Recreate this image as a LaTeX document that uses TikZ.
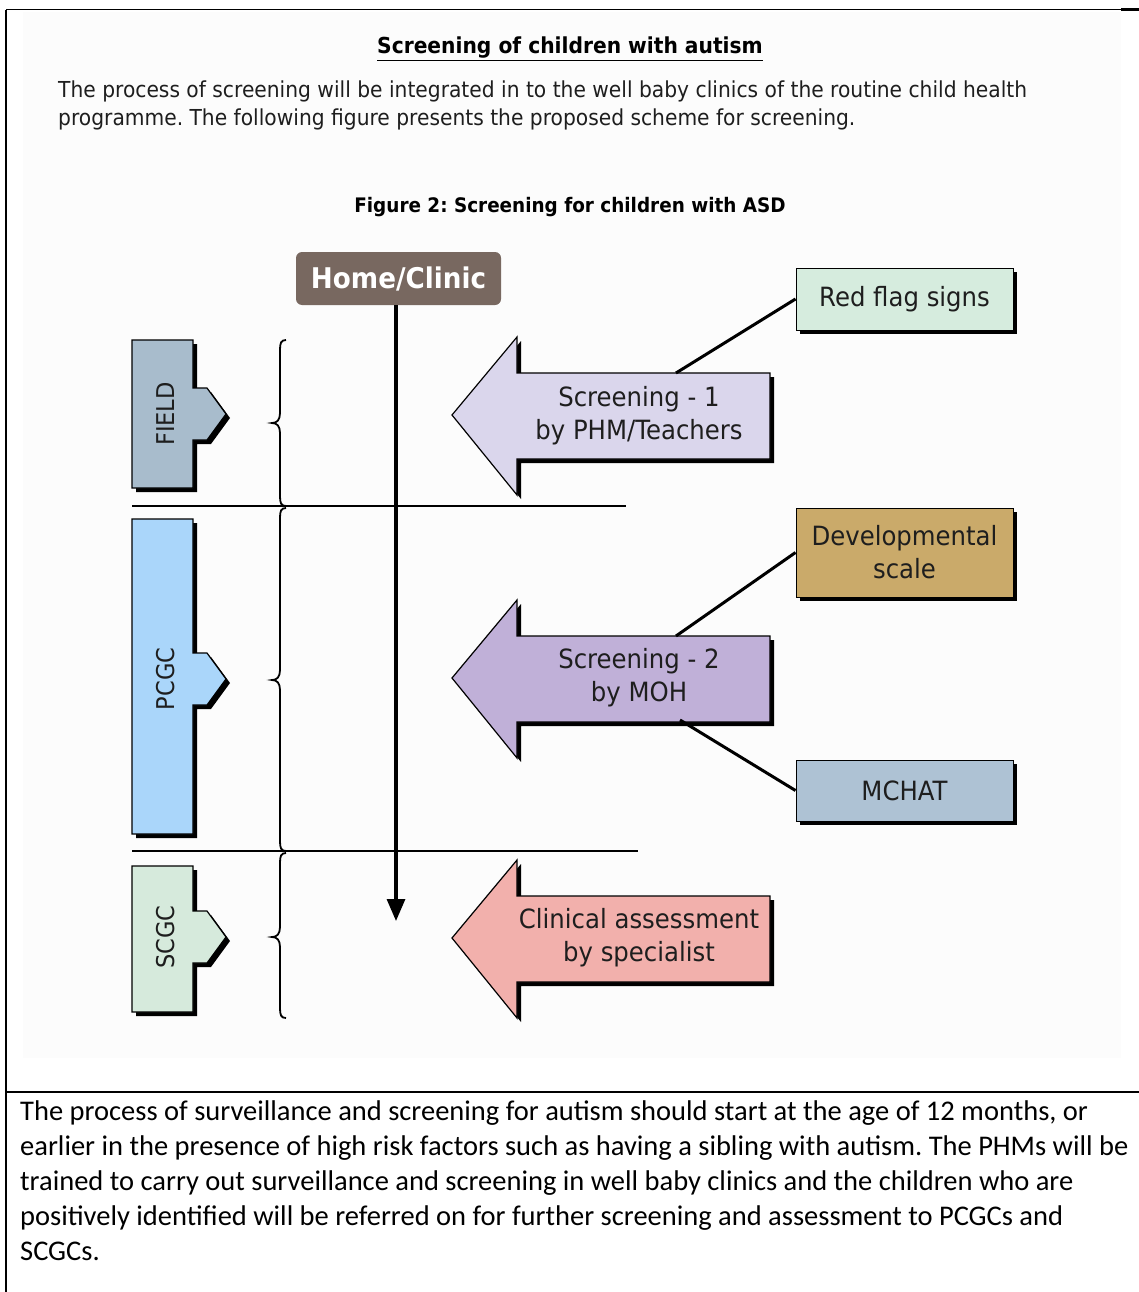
\documentclass[tikz,border=0pt]{standalone}
\usepackage{fontspec}
\usetikzlibrary{arrows.meta,shadows}
\newfontfamily\tah{DejaVu Sans}[FakeStretch=0.92]
\newfontfamily\calfont{Carlito}
\frenchspacing
\definecolor{pagegrey}{RGB}{252,252,252}
\definecolor{inkc}{RGB}{30,30,30}
\definecolor{homec}{RGB}{120,104,96}
\definecolor{fieldc}{RGB}{168,188,204}
\definecolor{pcgcc}{RGB}{170,214,250}
\definecolor{scgcc}{RGB}{214,234,220}
\definecolor{scrAc}{RGB}{218,214,236}
\definecolor{scrBc}{RGB}{192,176,216}
\definecolor{clinc}{RGB}{242,176,172}
\definecolor{redc}{RGB}{214,236,222}
\definecolor{devc}{RGB}{202,170,106}
\definecolor{mchatc}{RGB}{174,194,212}
\tikzset{
  toolbox/.style={draw=black, line width=1pt, minimum width=217pt, align=center,
    text=inkc, font=\tah\fontsize{26.5}{33}\selectfont,
    drop shadow={shadow xshift=4pt, shadow yshift=-4pt, opacity=1, fill=black}},
  tabtext/.style={rotate=90, text=inkc, font=\tah\fontsize{24.5}{26}\selectfont},
  arrtext/.style={align=center, text=inkc, font=\tah\fontsize{26.5}{33}\selectfont},
  linkline/.style={line width=3pt},
  seprule/.style={line width=1.8pt},
  bracepath/.style={line width=1.8pt},
  outlined/.style={draw=black, line width=1.2pt}
}
\begin{document}
\frenchspacing
\begin{tikzpicture}[x=1pt,y=-1pt]
\useasboundingbox (0,0) rectangle (1139,1292);
% page background and frame
\fill[pagegrey] (23,12) rectangle (1121,1058);
\draw[line width=2pt] (6,10) -- (6,1292);
\draw[line width=1pt] (6,10) -- (1121,10);
\draw[line width=3pt] (1121,10) -- (1139,10);
\draw[line width=2.4pt] (6,1092) -- (1139,1092);

% heading and introduction
\node[anchor=base, font=\tah\bfseries\fontsize{22}{26}\selectfont] (title) at (570,54)
  {\underline{Screening of children with autism}};
\node[anchor=base west, inner sep=0pt, font=\tah\fontsize{22}{28}\selectfont, text=inkc] (intro1) at (58,98)
  {The process of screening will be integrated in to the well baby clinics of the routine child health};
\node[anchor=base west, inner sep=0pt, font=\tah\fontsize{22}{28}\selectfont, text=inkc] (intro2) at (58,126)
  {programme. The following figure presents the proposed scheme for screening.};
\node[anchor=base, font=\tah\bfseries\fontsize{20}{24}\selectfont] (figcap) at (570,212)
  {Figure 2: Screening for children with ASD};

% level tabs on the left
\foreach \top/\bot/\mid/\col/\nm/\lbl in {340/488/414/fieldc/field/FIELD,
                                         519/834/679/pcgcc/pcgc/PCGC,
                                         866/1012/937/scgcc/scgc/SCGC}{
  \fill[black] (136,\top+4) -- (197,\top+4) -- (197,\mid-22) -- (211,\mid-22)
      -- (230,\mid+4) -- (211,\mid+30) -- (197,\mid+30) -- (197,\bot+4) -- (136,\bot+4) -- cycle;
  \draw[outlined, fill=\col] (132,\top) -- (193,\top) -- (193,\mid-26) -- (207,\mid-26)
      -- (226,\mid) -- (207,\mid+26) -- (193,\mid+26) -- (193,\bot) -- (132,\bot) -- cycle;
  \node[tabtext] (\nm) at (166,\mid) {\lbl};
}

% braces
\draw[bracepath] (286,340) .. controls (281,340) and (280,343) .. (280,350) -- (280,413)
  .. controls (280,420) and (277,423) .. (272,423) .. controls (277,423) and (280,426) .. (280,433)
  -- (280,496) .. controls (280,503) and (281,506) .. (286,506);
\draw[bracepath] (286,508) .. controls (281,508) and (280,511) .. (280,518) -- (280,670)
  .. controls (280,677) and (277,680) .. (272,680) .. controls (277,680) and (280,683) .. (280,690)
  -- (280,841) .. controls (280,848) and (281,851) .. (286,851);
\draw[bracepath] (286,853) .. controls (281,853) and (280,856) .. (280,863) -- (280,927)
  .. controls (280,934) and (277,937) .. (272,937) .. controls (277,937) and (280,940) .. (280,947)
  -- (280,1008) .. controls (280,1015) and (281,1018) .. (286,1018);

% separators
\draw[seprule] (132,506) -- (626,506);
\draw[seprule] (132,851) -- (638,851);

% home / clinic and flow line
\node[fill=homec, rounded corners=6pt, minimum width=205pt, minimum height=53pt,
      text=white, font=\tah\bfseries\fontsize{28.5}{30}\selectfont] (home) at (398.5,278.5) {Home/Clinic};
\coordinate (flowend) at (396,921);
\draw[line width=3.2pt, -{Triangle[length=22pt,width=18pt]}] (396,305) -- (flowend);

% block arrows
\foreach \y/\col in {415/scrAc, 678/scrBc, 938/clinc}{
  \fill[black] (456,\y+4) -- ++(65,-78) -- ++(0,36) -- ++(253,0) -- ++(0,86)
      -- ++(-253,0) -- ++(0,36) -- cycle;
  \draw[outlined, fill=\col] (452,\y) -- ++(65,-78) -- ++(0,36) -- ++(253,0) -- ++(0,86)
      -- ++(-253,0) -- ++(0,36) -- cycle;
}
\coordinate (scrAtop) at (676,373);
\coordinate (scrBtop) at (676,636);
\coordinate (scrBbot) at (680,720);
\node[arrtext] (scr1) at (639,416) {Screening - 1\\by PHM/Teachers};
\node[arrtext] (scr2) at (639,678) {Screening - 2\\by MOH};
\node[arrtext] (clin) at (639,938) {Clinical assessment\\by specialist};

% tools feeding the screenings
\node[toolbox, fill=redc, minimum height=62pt] (redflag) at (904.5,299) {Red flag signs};
\node[toolbox, fill=devc, minimum height=89pt] (devscale) at (904.5,552.5) {Developmental\\scale};
\node[toolbox, fill=mchatc, minimum height=61pt] (mchat) at (904.5,790.5) {MCHAT};
\draw[linkline] (redflag.west) -- (scrAtop);
\draw[linkline] (devscale.west) -- (scrBtop);
\draw[linkline] (mchat.west) -- (scrBbot);

% closing paragraph
\foreach \n/\yy/\txt in {1/1120/{The process of surveillance and screening for autism should start at the age of 12 months, or},
  2/1155/{earlier in the presence of high risk factors such as having a sibling with autism. The PHMs will be},
  3/1190/{trained to carry out surveillance and screening in well baby clinics and the children who are},
  4/1225/{positively identified will be referred on for further screening and assessment to PCGCs and},
  5/1260/{SCGCs.}}{
  \node[anchor=base west, inner sep=0pt, font=\calfont\fontsize{28.5}{35}\selectfont] (note\n) at (20,\yy) {\txt};
}
\end{tikzpicture}
\end{document}
